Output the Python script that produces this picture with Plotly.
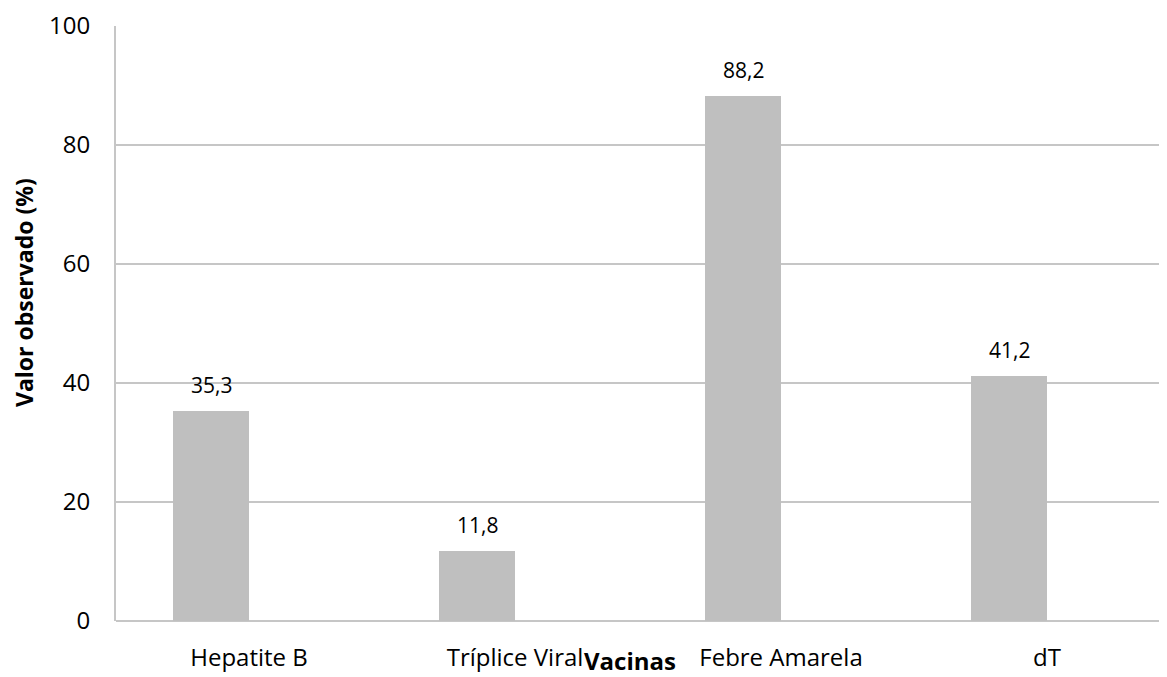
import plotly.graph_objects as go

categories = ["Hepatite B", "Tríplice Viral", "Febre Amarela", "dT"]
values = [35.3, 11.8, 88.2, 41.2]
y_ticks = [0, 20, 40, 60, 80, 100]

FONT = "Open Sans"
GRID = "#C6C6C6"
BAR = "#BFBFBF"

# page has an 8px body margin; figure occupies page px 8..1167 x 8..677
W, H = 1159, 669
L, T, B = 108, 18, 56
PW, PH = W - L, H - T - B  # 1051 x 595

x_idx = list(range(len(categories)))

fig = go.Figure()
fig.add_trace(go.Bar(
    x=x_idx, y=values, width=0.286, offset=-0.286,
    marker=dict(color=BAR, line=dict(width=0)),
    hoverinfo="skip", showlegend=False,
))

labels = [f"{v:.1f}".replace(".", ",") for v in values]
annotations = []
for i, (v, t) in enumerate(zip(values, labels)):
    annotations.append(dict(
        x=i, y=v, xref="x", yref="y", text=t, showarrow=False,
        xshift=-38, yshift=10, yanchor="bottom", xanchor="center",
        font=dict(family=FONT, size=21, color="#000000"),
    ))

# axis titles
annotations.append(dict(
    x=0, y=(PH - (293 - 26)) / PH, xref="paper", yref="paper",
    text="<b>Valor observado (%)</b>", showarrow=False, textangle=-90,
    xshift=-(116 - 24), xanchor="center", yanchor="middle",
    font=dict(family=FONT, size=23, color="#000000"),
))
annotations.append(dict(
    x=(630 - 116) / PW, y=-(643 - 621) / PH, xref="paper", yref="paper",
    text="<b>Vacinas</b>", showarrow=False, borderpad=0,
    xanchor="center", yanchor="top",
    font=dict(family=FONT, size=24, color="#000000"),
))

fig.update_layout(
    width=W, height=H,
    margin=dict(l=L, r=0, t=T, b=B, pad=0),
    paper_bgcolor="white", plot_bgcolor="white",
    annotations=annotations,
    bargap=0,
    font=dict(family=FONT, color="#000000"),
)
fig.update_xaxes(
    range=[-0.5, -0.5 + PW / 266],
    tickmode="array", tickvals=x_idx, ticktext=categories,
    tickfont=dict(family=FONT, size=24, color="#000000"),
    showgrid=False, zeroline=False,
    showline=False, ticks="", ticklabelstandoff=20,
)
fig.update_yaxes(
    range=[0, 100], tickmode="array", tickvals=y_ticks,
    tickfont=dict(family=FONT, size=24, color="#000000"),
    showgrid=True, gridcolor=GRID, gridwidth=2,
    zeroline=True, zerolinecolor=GRID, zerolinewidth=2,
    showline=True, linecolor=GRID, linewidth=2,
    ticks="", ticklabelstandoff=19,
)

fig.write_html("out.html")
